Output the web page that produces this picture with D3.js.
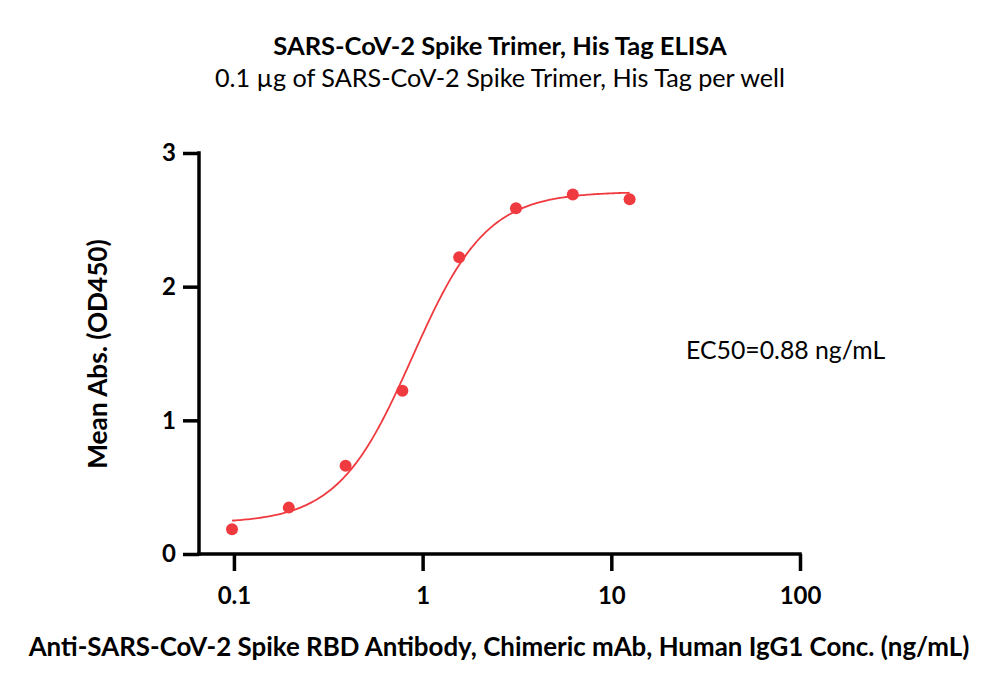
<!DOCTYPE html>
<html><head><meta charset="utf-8">
<script src="https://cdn.jsdelivr.net/npm/d3@7"></script>
<style>body{margin:0;background:#fff}svg{display:block}</style>
</head><body>
<svg id="c" width="1000" height="692"></svg>
<script>
const concentrations = [0.0977, 0.1953, 0.3906, 0.7813, 1.5625, 3.125, 6.25, 12.5];
const absorbance = [0.185, 0.347, 0.66, 1.222, 2.22, 2.586, 2.69, 2.654];
const xTicks = [0.1, 1, 10, 100];
const xTickLabels = ["0.1", "1", "10", "100"];
const yTicks = [0, 1, 2, 3];
const fitBottom = 0.23, fitTop = 2.71, fitEC50 = 0.88, fitHill = 2.2;
const title = "SARS-CoV-2 Spike Trimer, His Tag ELISA";
const subtitle = "0.1 µg of SARS-CoV-2 Spike Trimer, His Tag per well";
const xTitle = "Anti-SARS-CoV-2 Spike RBD Antibody, Chimeric mAb, Human IgG1 Conc. (ng/mL)";
const yTitle = "Mean Abs. (OD450)";
const ecLabel = "EC50=0.88 ng/mL";

const svg = d3.select("#c");
const font = "Lato, 'Open Sans', sans-serif";
const red = "#ef3b40";

const x = d3.scaleLog().domain([0.0653, 100]).range([199, 800]);
const y = d3.scaleLinear().domain([0, 3]).range([554, 153]);

// axes
const xAxis = svg.append("g").attr("transform", "translate(0,554)")
  .call(d3.axisBottom(x).tickValues(xTicks).tickFormat((d,i)=>xTickLabels[i]).tickSize(17).tickPadding(16).tickSizeOuter(0));
const yAxis = svg.append("g").attr("transform", "translate(199,0)")
  .call(d3.axisLeft(y).tickValues(yTicks).tickFormat(d3.format("d")).tickSize(16).tickPadding(7).tickSizeOuter(0));
[xAxis, yAxis].forEach(g => {
  g.select(".domain").attr("stroke", "#000").attr("stroke-width", 3.5);
  g.selectAll(".tick line").attr("stroke", "#000").attr("stroke-width", 3.5);
  g.selectAll(".tick text").attr("fill", "#000").style("font-family", font)
    .style("font-weight", "bold").style("font-size", "24px");
});
xAxis.select(".domain").attr("d", `M${x.range()[0]-1.75},0H${x.range()[1]+1.75}`);
yAxis.select(".domain").attr("d", `M0,${y(3)-1.75}V${y(0)+1.75}`);

// fitted curve (4PL with the fit parameters shown on the chart)
const fit = c => fitBottom + (fitTop - fitBottom) / (1 + Math.pow(fitEC50 / c, fitHill));
const c0 = concentrations[0], c1 = concentrations[concentrations.length-1];
const curvePts = d3.range(0, 201).map(i => c0 * Math.pow(c1 / c0, i / 200));
svg.append("path").datum(curvePts)
  .attr("fill", "none").attr("stroke", red).attr("stroke-width", 1.8)
  .attr("d", d3.line().x(d => x(d)).y(d => y(fit(d))));

// points
svg.append("g").selectAll("circle").data(concentrations).join("circle")
  .attr("cx", d => x(d)).attr("cy", (d,i) => y(absorbance[i])).attr("r", 6)
  .attr("fill", red);

// texts
svg.append("text").attr("x", 500).attr("y", 55).attr("text-anchor", "middle")
  .style("font-family", font).style("font-weight", "bold").style("font-size", "25.5px").text(title);
svg.append("text").attr("x", 500).attr("y", 87).attr("text-anchor", "middle")
  .style("font-family", font).style("font-size", "25.2px").text(subtitle);
svg.append("text").attr("x", 499).attr("y", 656).attr("text-anchor", "middle")
  .style("font-family", font).style("font-weight", "bold").style("font-size", "25.9px").text(xTitle);
svg.append("text").attr("transform", "translate(107,354) rotate(-90)").attr("text-anchor", "middle")
  .style("font-family", font).style("font-weight", "bold").style("font-size", "26.2px").text(yTitle);
svg.append("text").attr("x", 686).attr("y", 359)
  .style("font-family", font).style("font-size", "24.8px").text(ecLabel);
</script>
</body></html>
